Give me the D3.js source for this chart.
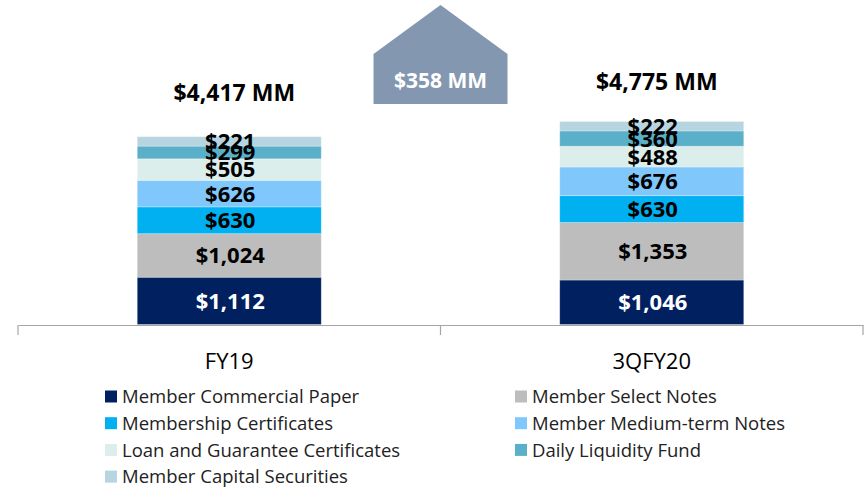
<!DOCTYPE html>
<html>
<head>
<meta charset="utf-8">
<script src="https://cdnjs.cloudflare.com/ajax/libs/d3/7.8.5/d3.min.js"></script>
<style>
  body { margin: 0; background: #fff; }
  svg { display: block; font-family: "Open Sans", sans-serif; }
</style>
</head>
<body>
<div id="chart"></div>
<script>
var width = 866,
    height = 490;

// data
var periods = ["FY19", "3QFY20"];
var series = ["Member Commercial Paper", "Member Select Notes", "Membership Certificates",
              "Member Medium-term Notes", "Loan and Guarantee Certificates",
              "Daily Liquidity Fund", "Member Capital Securities"];
var fy19 = [1112, 1024, 630, 626, 505, 299, 221];
var q3fy20 = [1046, 1353, 630, 676, 488, 360, 222];
var totals = ["$4,417 MM", "$4,775 MM"];
var change = "$358 MM";
var colors = ["#002060", "#bdbdbd", "#00b0f0", "#80c8fc", "#dbeeeb", "#5bb0c9", "#b6d5e0"];

var totalGap = [44, 40];  // space between bar top and total label

var rows = periods.map(function (p, i) {
    var vals = i == 0 ? fy19 : q3fy20;
    var r = { period: p };
    series.forEach(function (s, k) { r[s] = vals[k]; });
    return r;
});

var svg = d3.select("#chart").append("svg")
    .attr("width", width)
    .attr("height", height);

var x = d3.scaleBand()
    .domain(periods)
    .range([18, 863])
    .paddingInner(0)
    .paddingOuter(0);

var y = d3.scaleLinear()
    .domain([0, 4775])
    .range([324.5, 121.5]);

var color = d3.scaleOrdinal().domain(series).range(colors);

var stack = d3.stack().keys(series);
var layers = stack(rows);

var barW = 184;

var layerg = svg.append("g").selectAll("g.layer")
    .data(layers)
    .enter().append("g")
    .attr("class", "layer")
    .style("fill", function (d) { return color(d.key); });

layerg.selectAll("rect")
    .data(function (d) { return d; })
    .enter().append("rect")
    .attr("x", function (d) { return x(d.data.period) + x.bandwidth() / 2 - barW / 2; })
    .attr("y", function (d) { return y(d[1]); })
    .attr("width", barW)
    .attr("height", function (d) { return y(d[0]) - y(d[1]); })
    .style("stroke", "#fff")
    .style("stroke-opacity", 0.35)
    .style("stroke-width", 0.75);

// segment labels
layers.forEach(function (layer, k) {
    svg.append("g").selectAll("text")
        .data(layer)
        .enter().append("text")
        .attr("x", function (d) { return x(d.data.period) + x.bandwidth() / 2 + 1; })
        .attr("y", function (d) { return (y(d[0]) + y(d[1])) / 2; })
        .attr("dy", "0.36em")
        .attr("text-anchor", "middle")
        .style("font-size", "22px")
        .style("font-weight", "bold")
        .style("fill", k == 0 ? "#fff" : "#000")
        .text(function (d) { return "$" + d3.format(",")(d[1] - d[0]); });
});

// totals above bars
svg.append("g").selectAll("text")
    .data(periods)
    .enter().append("text")
    .attr("x", function (d) { return x(d) + x.bandwidth() / 2 + 5; })
    .attr("y", function (d, i) { return y(i == 0 ? d3.sum(fy19) : d3.sum(q3fy20)) - totalGap[i]; })
    .attr("dy", "0.36em")
    .attr("text-anchor", "middle")
    .style("font-size", "23px")
    .style("font-weight", "bold")
    .style("fill", "#000")
    .text(function (d, i) { return totals[i]; });

// category axis
var axis = svg.append("g")
    .attr("transform", "translate(0,325)")
    .call(d3.axisBottom(x).tickSize(0).tickFormat(""));
axis.select(".domain").attr("stroke", "#a6a6a6").attr("stroke-width", 1.2);
axis.selectAll(".tick").remove();

var edges = [x.range()[0]].concat(periods.map(function (p) { return x(p) + x.bandwidth(); }));
axis.selectAll("line.edge")
    .data(edges)
    .enter().append("line")
    .attr("class", "edge")
    .attr("x1", function (d) { return d; })
    .attr("x2", function (d) { return d; })
    .attr("y1", 0)
    .attr("y2", 10)
    .attr("stroke", "#a6a6a6")
    .attr("stroke-width", 1.2);

svg.append("g").selectAll("text")
    .data(periods)
    .enter().append("text")
    .attr("x", function (d) { return x(d) + x.bandwidth() / 2; })
    .attr("y", 361)
    .attr("dy", "0.36em")
    .attr("text-anchor", "middle")
    .style("font-size", "22px")
    .style("fill", "#000")
    .text(function (d) { return d; });

// increase arrow between the bars
var mid = x(periods[1]);
var ax = d3.scaleLinear().domain([-1, 1]).range([mid - 67, mid + 67]);
var arrow = d3.path();
arrow.moveTo(ax(-1), 104);
arrow.lineTo(ax(-1), 54);
arrow.lineTo(ax(0), 5);
arrow.lineTo(ax(1), 54);
arrow.lineTo(ax(1), 104);
arrow.closePath();
svg.append("path")
    .attr("d", arrow.toString())
    .style("fill", "#8497b0");
svg.append("text")
    .attr("x", mid)
    .attr("y", 80)
    .attr("dy", "0.36em")
    .attr("text-anchor", "middle")
    .style("font-size", "21px")
    .style("font-weight", "bold")
    .style("fill", "#fff")
    .text(change);

// legend, two columns filled row by row
var legend = svg.append("g").selectAll("g.legend")
    .data(series)
    .enter().append("g")
    .attr("class", "legend")
    .attr("transform", function (d, i) {
        var col = i % 2, row = Math.floor(i / 2);
        return "translate(" + (col == 0 ? 105 : 515) + "," + (396.5 + row * 26.7) + ")";
    });

legend.append("rect")
    .attr("x", 0)
    .attr("y", -6)
    .attr("width", 12)
    .attr("height", 12)
    .style("fill", function (d) { return color(d); });

legend.append("text")
    .attr("x", 17)
    .attr("y", 0)
    .attr("dy", "0.36em")
    .style("font-size", "18.5px")
    .style("fill", "#222")
    .text(function (d) { return d; });
</script>
</body>
</html>
